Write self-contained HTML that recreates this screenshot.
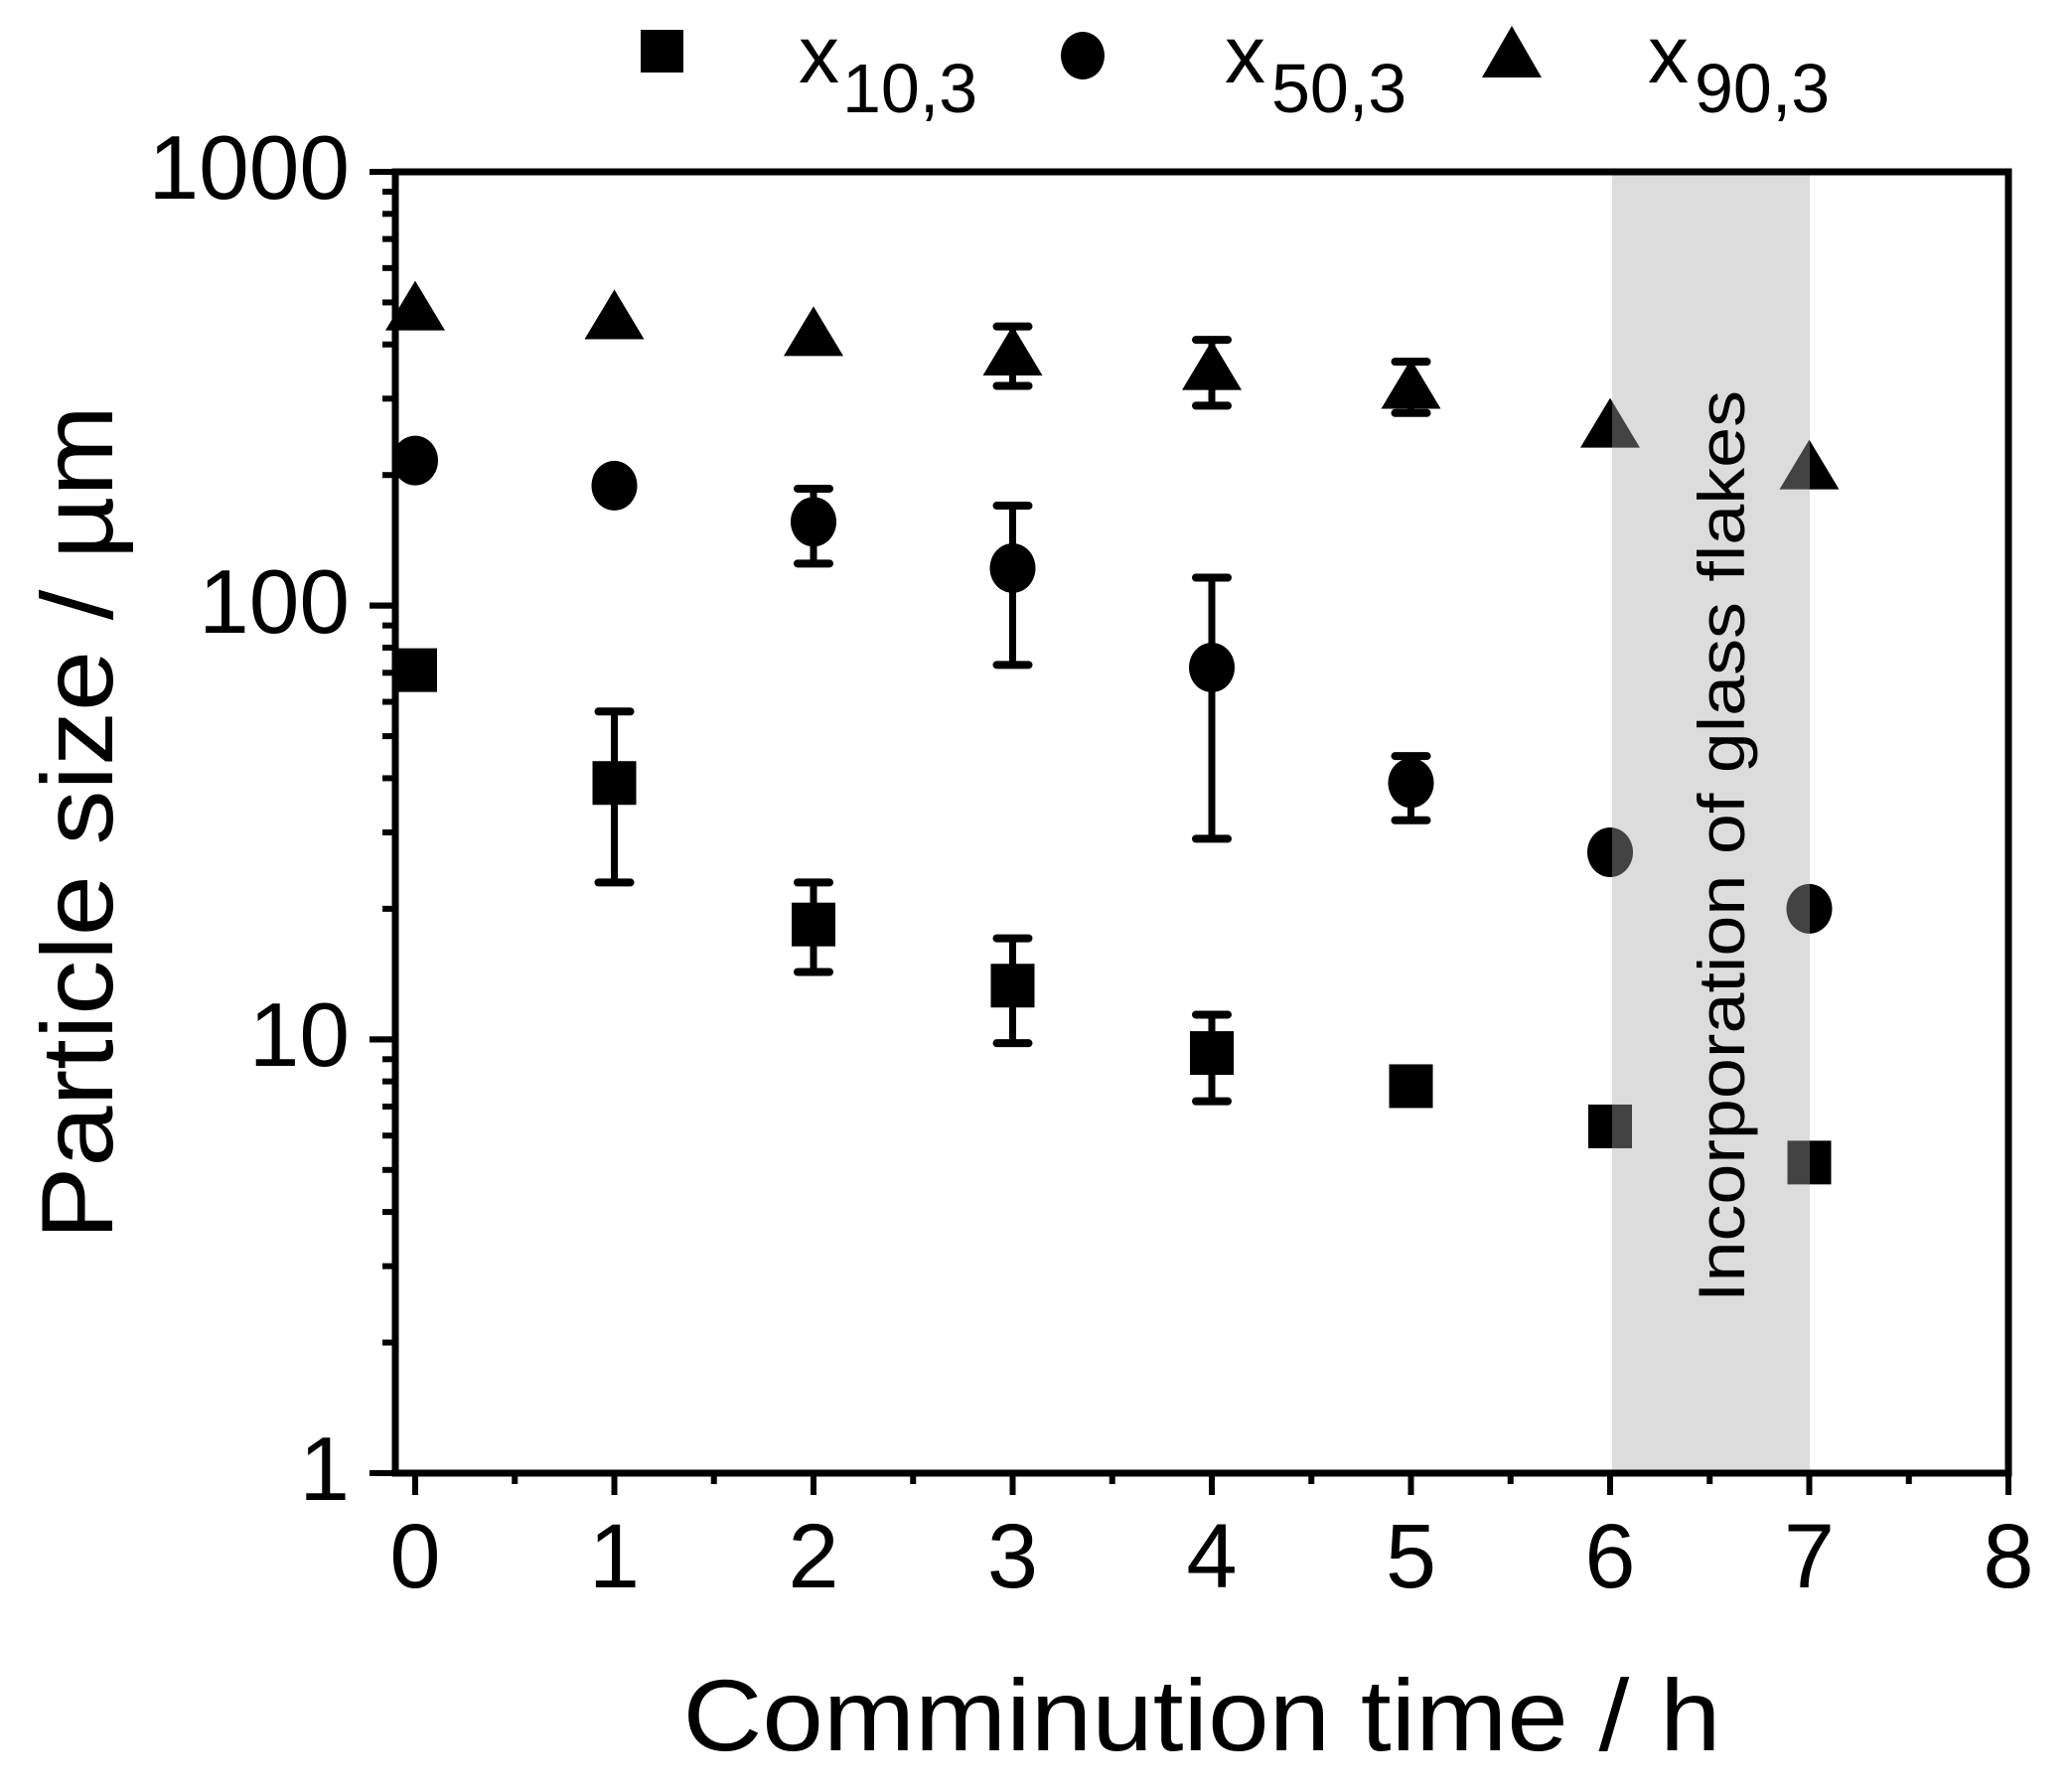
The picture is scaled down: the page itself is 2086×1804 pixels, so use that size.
<!DOCTYPE html>
<html><head><meta charset="utf-8"><style>html,body{margin:0;padding:0;background:#fff}svg{display:block}</style></head>
<body>
<svg id="s" width="2086" height="1804" viewBox="0 0 2086 1804" xmlns="http://www.w3.org/2000/svg" font-family="Liberation Sans, Arial, sans-serif">
<rect width="2086" height="1804" fill="#fff"/>
<g id="data"></g>
<rect x="1623" y="173" width="199" height="1310" fill="#a8a8a8" fill-opacity="0.4"/>
<text transform="translate(1756,852) rotate(-90)" text-anchor="middle" font-size="66" textLength="918" lengthAdjust="spacingAndGlyphs">Incorporation of glass flakes</text>
<g id="axes" stroke="#000" stroke-width="7" fill="none">
<rect x="398" y="173" width="1624" height="1310"/>
</g>
<g id="ticks" stroke="#000" stroke-width="6"></g>
<g font-size="91" text-anchor="end">
<text x="352" y="200">1000</text>
<text x="352" y="637">100</text>
<text x="352" y="1073">10</text>
<text x="352" y="1510">1</text>
</g>
<g font-size="92" text-anchor="middle">
<text x="418" y="1598">0</text><text x="618.5" y="1598">1</text><text x="819" y="1598">2</text><text x="1019.5" y="1598">3</text><text x="1220" y="1598">4</text><text x="1420.5" y="1598">5</text><text x="1621" y="1598">6</text><text x="1821.5" y="1598">7</text><text x="2022" y="1598">8</text>
</g>
<text x="1210" y="1762" text-anchor="middle" font-size="102" textLength="1045" lengthAdjust="spacingAndGlyphs">Comminution time / h</text>
<text transform="translate(113,828) rotate(-90)" text-anchor="middle" font-size="102" textLength="840" lengthAdjust="spacingAndGlyphs">Particle size / µm</text>
<rect x="645" y="30" width="43" height="43" fill="#000"/>
<ellipse cx="1090" cy="56" rx="22" ry="24" fill="#000"/>
<polygon points="1522,26 1552,78 1492,78" fill="#000"/>
<g font-size="82">
<text x="804" y="83">x</text><text x="848" y="113" font-size="70">10,3</text>
<text x="1233" y="83">x</text><text x="1280" y="113" font-size="70">50,3</text>
<text x="1659" y="83">x</text><text x="1706" y="113" font-size="70">90,3</text>
</g>
</svg>
<script>
var NS="http://www.w3.org/2000/svg";
function el(p,n,a){var e=document.createElementNS(NS,n);for(var k in a)e.setAttribute(k,a[k]);p.appendChild(e);return e;}
function X(t){return 418+200.5*t;}
function Y(v){return 1483-436.67*Math.log10(v);}
var g=document.getElementById('data');
var sq=[[0,71],[1,39,57,23],[2,18.4,23,14.3],[3,13.3,17.1,9.8],[4,9.3,11.4,7.2],[5,7.8],[6,6.3],[7,5.2]];
var ci=[[0,216],[1,189],[2,156,186,125],[3,122,170,73],[4,72,116,29],[5,39,45,32],[6,27],[7,20]];
var tr=[[0,479],[1,457],[2,418],[3,377,440,321],[4,349,410,289],[5,316,365,278],[6,257],[7,206]];
function err(d){if(d.length<4)return;var x=X(d[0]),a=Y(d[2]),b=Y(d[3]);
el(g,'line',{x1:x,x2:x,y1:a,y2:b,stroke:'#000','stroke-width':7});
el(g,'line',{x1:x-16,x2:x+16,y1:a,y2:a,stroke:'#000','stroke-width':8,'stroke-linecap':'round'});
el(g,'line',{x1:x-16,x2:x+16,y1:b,y2:b,stroke:'#000','stroke-width':8,'stroke-linecap':'round'});}
sq.forEach(function(d){err(d);el(g,'rect',{x:X(d[0])-22,y:Y(d[1])-22,width:44,height:44,fill:'#000'});});
ci.forEach(function(d){err(d);el(g,'ellipse',{cx:X(d[0]),cy:Y(d[1]),rx:23,ry:25,fill:'#000'});});
tr.forEach(function(d){err(d);var x=X(d[0]),y=Y(d[1]);el(g,'polygon',{points:(x)+','+(y-30)+' '+(x+30)+','+(y+20)+' '+(x-30)+','+(y+20),fill:'#000'});});
var t=document.getElementById('ticks');
for(var i=0;i<=16;i++){var x=418+100.25*i;if(x>2022)break;var L=(i%2==0)?22:11;el(t,'line',{x1:x,x2:x,y1:1483,y2:1483+L});}
for(var d=0;d<3;d++)for(var m=1;m<=10;m++){var y=Y(Math.pow(10,d)*m);var L=(m==1||m==10)?26:13;el(t,'line',{x1:398,x2:398-L,y1:y,y2:y});}
</script>
</body></html>
